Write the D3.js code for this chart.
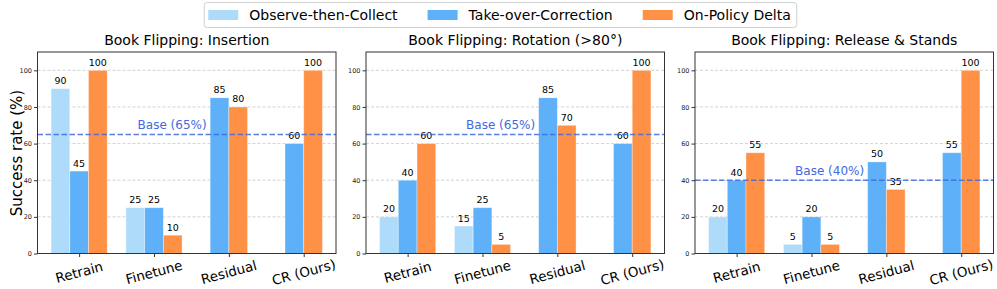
<!DOCTYPE html>
<html>
<head>
<meta charset="utf-8">
<script src="https://cdn.jsdelivr.net/npm/d3@7"></script>
<style>
    body { margin: 0; background: #fff; }
    svg { display: block; font-family: "DejaVu Sans", sans-serif; }
</style>
</head>
<body>
<div id="chart"></div>
<script>
// Données
const methods = ["Observe-then-Collect", "Take-over-Correction", "On-Policy Delta"];
const methodColors = ["#afdbfb", "#5eb0f8", "#ff9147"];
const categories = ["Retrain", "Finetune", "Residual", "CR (Ours)"];
const panelTitles = ["Book Flipping: Insertion", "Book Flipping: Rotation (>80°)", "Book Flipping: Release & Stands"];
const baseRates = [65, 65, 40];
const observeValues = [[90, 25, null, null], [20, 15, null, null], [20, 5, null, null]];
const takeoverValues = [[45, 25, 85, 60], [40, 25, 85, 60], [40, 20, 50, 55]];
const onPolicyValues = [[100, 10, 80, 100], [60, 5, 70, 100], [55, 5, 35, 100]];
const yTicks = [0, 20, 40, 60, 80, 100];

// Configuration
const width = 997;
const height = 289;
const panelLefts = [37.5, 366, 695];
const panelWidth = 298.5;
const plotTop = 52, plotBottom = 253.5;
const barWidth = 0.25;

const svg = d3.select("#chart").append("svg")
    .attr("width", width)
    .attr("height", height);

const x = d3.scaleLinear()
    .domain([-0.375 - 0.18125, 3.25 + 0.18125])
    .range([0, panelWidth]);

const y = d3.scaleLinear()
    .domain([0, 110])
    .range([plotBottom, plotTop]);

panelTitles.forEach((title, p) => {
    const g = svg.append("g").attr("transform", `translate(${panelLefts[p]},0)`);
    const series = [observeValues[p], takeoverValues[p], onPolicyValues[p]];

    // Grille
    g.append("g")
        .selectAll("line")
        .data(yTicks.filter(t => t > 0))
        .join("line")
        .attr("x1", 0).attr("x2", panelWidth)
        .attr("y1", d => y(d)).attr("y2", d => y(d))
        .attr("stroke", "#c8c8c8")
        .attr("stroke-width", 0.8)
        .attr("stroke-dasharray", "3,2");

    // Barres (centrées selon le nombre de méthodes présentes)
    const bars = [];
    categories.forEach((cat, ci) => {
        const present = series.map((s, mi) => ({ mi, v: s[ci] })).filter(d => d.v !== null);
        present.forEach((d, k) => {
            const offset = (k - (present.length - 1) / 2) * barWidth;
            bars.push({ ci, mi: d.mi, v: d.v, xc: ci + offset });
        });
    });

    g.append("g")
        .selectAll("rect")
        .data(bars)
        .join("rect")
        .attr("x", d => x(d.xc - barWidth / 2))
        .attr("width", x(barWidth) - x(0))
        .attr("y", d => y(d.v))
        .attr("height", d => y(0) - y(d.v))
        .attr("fill", d => methodColors[d.mi])
        .attr("stroke", "#ffffff")
        .attr("stroke-opacity", 0.45)
        .attr("stroke-width", 0.8);

    g.append("g")
        .selectAll("text")
        .data(bars)
        .join("text")
        .attr("x", d => x(d.xc))
        .attr("y", d => y(d.v) - 4.5)
        .attr("text-anchor", "middle")
        .attr("font-size", "9.5px")
        .attr("fill", "#000")
        .text(d => d.v);

    // Ligne de base
    g.append("line")
        .attr("x1", 0).attr("x2", panelWidth)
        .attr("y1", y(baseRates[p])).attr("y2", y(baseRates[p]))
        .attr("stroke", "#4169e1")
        .attr("stroke-opacity", 0.85)
        .attr("stroke-width", 1.5)
        .attr("stroke-dasharray", "5.5,2.5");

    g.append("text")
        .attr("x", panelWidth * 0.451)
        .attr("y", y(baseRates[p]) - 5.3)
        .attr("text-anchor", "middle")
        .attr("font-size", "12px")
        .attr("fill", "#4169e1")
        .text(`Base (${baseRates[p]}%)`);

    // Axes
    const yAxis = g.append("g")
        .call(d3.axisLeft(y).tickValues(yTicks).tickSize(3.5).tickPadding(2));
    yAxis.select(".domain").remove();
    yAxis.selectAll("text").attr("font-size", "6.5px").attr("fill", "#222").attr("font-family", "DejaVu Sans");
    yAxis.selectAll("line").attr("stroke", "#333");

    const xAxis = g.append("g")
        .attr("transform", `translate(0,${plotBottom})`)
        .call(d3.axisBottom(x).tickValues(d3.range(categories.length)).tickSize(3.5).tickFormat(""));
    xAxis.select(".domain").remove();
    xAxis.selectAll("line").attr("stroke", "#333");

    g.append("g")
        .selectAll("text")
        .data(categories)
        .join("text")
        .attr("transform", (d, i) => `translate(${x(i)},272) rotate(-15)`)
        .attr("text-anchor", "middle")
        .attr("dominant-baseline", "central")
        .attr("font-size", "13.5px")
        .attr("fill", "#000")
        .text(d => d);

    // Cadre
    g.append("rect")
        .attr("x", 0).attr("y", plotTop)
        .attr("width", panelWidth).attr("height", plotBottom - plotTop)
        .attr("fill", "none")
        .attr("stroke", "#333")
        .attr("stroke-width", 1);

    // Titre
    g.append("text")
        .attr("x", panelWidth / 2)
        .attr("y", 44.5)
        .attr("text-anchor", "middle")
        .attr("font-size", "14px")
        .attr("fill", "#000")
        .text(title);
});

// Label Y
svg.append("text")
    .attr("transform", `translate(17,153) rotate(-90)`)
    .attr("text-anchor", "middle")
    .attr("dominant-baseline", "central")
    .attr("font-size", "15px")
    .attr("fill", "#000")
    .text("Success rate (%)");

// Légende
const legend = svg.append("g");
const legendBox = legend.append("rect")
    .attr("y", 2.5).attr("height", 25)
    .attr("rx", 3)
    .attr("fill", "#fff")
    .attr("stroke", "#d0d0d0")
    .attr("stroke-width", 1);

let cursor = 0;
const items = legend.append("g");
methods.forEach((m, i) => {
    if (i > 0) cursor += 30;
    items.append("rect")
        .attr("x", cursor).attr("y", 10)
        .attr("width", 30).attr("height", 10)
        .attr("fill", methodColors[i]);
    const t = items.append("text")
        .attr("x", cursor + 41).attr("y", 20)
        .attr("font-size", "14px")
        .attr("fill", "#000")
        .text(m);
    cursor += 41 + t.node().getComputedTextLength();
});
const legendWidth = cursor + 4 + 6;
const legendLeft = 500.5 - legendWidth / 2;
items.attr("transform", `translate(${legendLeft + 4},0)`);
legendBox.attr("x", legendLeft).attr("width", legendWidth);
</script>
</body>
</html>
